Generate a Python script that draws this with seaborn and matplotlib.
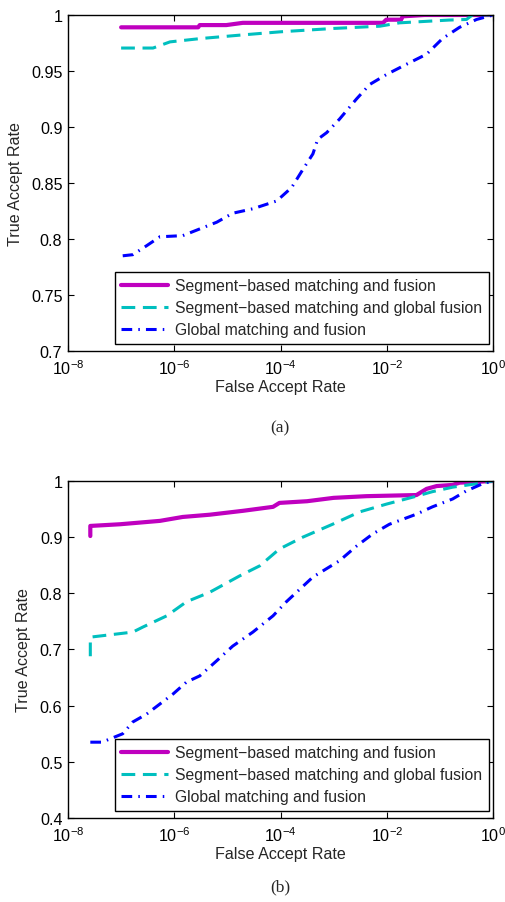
import numpy as np
import pandas as pd
import matplotlib
matplotlib.use("Agg")
import matplotlib.pyplot as plt
import seaborn as sns

# ---------------- data (FAR given as log10 values) ----------------
labels = ["Segment\u2212based matching and fusion",
          "Segment\u2212based matching and global fusion",
          "Global matching and fusion"]

# panel (a)
a_seg_logfar = [-7.0, -5.55, -5.52, -5.02, -4.71, -2.07, -2.01, -1.73, -1.70, -1.29, 0.0]
a_seg_tar    = [0.989, 0.989, 0.991, 0.991, 0.993, 0.993, 0.9958, 0.9958, 0.9988, 1.0, 1.0]
a_sgf_logfar = [-7.0, -6.4, -6.08, -5.5, -4.77, -4.0, -3.0, -2.13, -1.76, -0.82, -0.5, -0.39, 0.0]
a_sgf_tar    = [0.9705, 0.9705, 0.976, 0.979, 0.982, 0.985, 0.988, 0.990, 0.993, 0.9955, 0.996, 1.0, 1.0]
a_glb_logfar = [-6.97, -6.78, -6.52, -6.27, -5.84, -5.52, -5.2, -4.9, -4.52, -4.07, -3.79, -3.58,
                -3.39, -3.3, -3.13, -2.89, -2.57, -2.32, -2.0, -1.63, -1.25, -0.95, -0.63, -0.31, 0.0]
a_glb_tar    = [0.785, 0.786, 0.794, 0.802, 0.803, 0.809, 0.815, 0.823, 0.827, 0.834, 0.846, 0.862,
                0.876, 0.889, 0.895, 0.907, 0.925, 0.938, 0.947, 0.956, 0.965, 0.979, 0.989, 0.996, 1.0]

# panel (b)
b_seg_logfar = [-7.58, -7.58, -7.02, -6.27, -5.84, -5.33, -4.7, -4.14, -4.02, -3.5, -3.0, -2.38,
                -1.44, -1.25, -1.06, -0.76, -0.63, 0.0]
b_seg_tar    = [0.902, 0.920, 0.923, 0.929, 0.936, 0.940, 0.947, 0.954, 0.961, 0.964, 0.970, 0.973,
                0.975, 0.986, 0.991, 0.993, 0.997, 1.0]
b_sgf_logfar = [-7.58, -7.58, -6.78, -6.59, -6.14, -5.77, -5.33, -4.77, -4.39, -4.02, -3.58, -3.02,
                -2.51, -2.0, -1.44, -1.14, -0.76, -0.32, 0.0]
b_sgf_tar    = [0.688, 0.722, 0.731, 0.740, 0.760, 0.785, 0.802, 0.831, 0.849, 0.879, 0.900, 0.923,
                0.945, 0.959, 0.973, 0.981, 0.989, 0.995, 1.0]
b_glb_logfar = [-7.58, -7.36, -6.97, -6.78, -6.52, -6.27, -6.02, -5.77, -5.52, -5.2, -4.9, -4.52,
                -4.14, -3.89, -3.39, -2.89, -2.57, -2.26, -1.95, -1.44, -1.14, -0.76, -0.51, -0.2, 0.0]
b_glb_tar    = [0.535, 0.535, 0.550, 0.571, 0.585, 0.603, 0.621, 0.642, 0.653, 0.680, 0.706, 0.731,
                0.760, 0.785, 0.829, 0.858, 0.884, 0.906, 0.923, 0.941, 0.954, 0.968, 0.982, 0.995, 1.0]

a_yticks = [0.7, 0.75, 0.8, 0.85, 0.9, 0.95, 1.0]
a_yticklabels = ["0.7", "0.75", "0.8", "0.85", "0.9", "0.95", "1"]
b_yticks = [0.4, 0.5, 0.6, 0.7, 0.8, 0.9, 1.0]
b_yticklabels = ["0.4", "0.5", "0.6", "0.7", "0.8", "0.9", "1"]
xticks = [1e-8, 1e-6, 1e-4, 1e-2, 1e0]
captions = ["(a)", "(b)"]

# ---------------- style ----------------
sns.set_style("ticks")
plt.rcParams["font.family"] = ["Liberation Sans", "DejaVu Sans"]
plt.rcParams["mathtext.fontset"] = "custom"
plt.rcParams["mathtext.rm"] = "Liberation Sans"
plt.rcParams["mathtext.it"] = "Liberation Sans:italic"
FS = 11.6
LFS = 11.3

colors = ["#BF00BF", "#00BFBF", "#0000FF"]
widths = [3.0, 2.2, 2.2]
styles = ["-", (0, (4.5, 2.5)), (0, (3.5, 2.0, 0.5, 2.0))]

fig = plt.figure(figsize=(5.06, 9.03), dpi=100)
ax_a = fig.add_axes([68 / 506, 1 - 352 / 903, 425 / 506, 336 / 903])
ax_b = fig.add_axes([68 / 506, 1 - 819 / 903, 425 / 506, 337 / 903])

panels = [
    (ax_a, [(a_seg_logfar, a_seg_tar), (a_sgf_logfar, a_sgf_tar), (a_glb_logfar, a_glb_tar)],
     (0.7, 1.0), a_yticks, a_yticklabels),
    (ax_b, [(b_seg_logfar, b_seg_tar), (b_sgf_logfar, b_sgf_tar), (b_glb_logfar, b_glb_tar)],
     (0.4, 1.0), b_yticks, b_yticklabels),
]

for ax, series, ylim, yt, ytl in panels:
    for (lf, tar), lab, c, w, ls in zip(series, labels, colors, widths, styles):
        df = pd.DataFrame({"FAR": np.power(10.0, lf), "TAR": tar})
        sns.lineplot(data=df, x="FAR", y="TAR", ax=ax, sort=False, estimator=None,
                     color=c, lw=w, linestyle=ls, label=lab)
    ax.set_xscale("log")
    ax.set_xlim(1e-8, 1e0)
    ax.set_ylim(*ylim)
    ax.set_xticks(xticks)
    ax.minorticks_off()
    ax.set_yticks(yt)
    ax.set_yticklabels(ytl)
    ax.tick_params(direction="in", length=4, width=0.8, top=True, right=True,
                   labelsize=FS, colors="black", pad=4)
    ax.tick_params(axis="x", pad=5.5)
    for sp in ax.spines.values():
        sp.set_visible(True)
        sp.set_color("black")
        sp.set_linewidth(1.0)
    ax.set_xlabel("False Accept Rate", fontsize=FS, labelpad=1)
    ax.set_ylabel("True Accept Rate", fontsize=FS, labelpad=6)
    leg = ax.legend(loc="lower left", bbox_to_anchor=(0.11, 0.022), fontsize=LFS,
                    frameon=True, fancybox=False, shadow=False, framealpha=1,
                    edgecolor="black", handlelength=3.0, handletextpad=0.45,
                    borderpad=0.4, labelspacing=0.45, borderaxespad=0)
    leg.get_frame().set_linewidth(1.0)

fig.text(280 / 506, 1 - 428 / 903, captions[0], ha="center", va="center",
         fontsize=12.5, family=["Liberation Serif", "DejaVu Serif"])
fig.text(280 / 506, 1 - 887 / 903, captions[1], ha="center", va="center",
         fontsize=12.5, family=["Liberation Serif", "DejaVu Serif"])

fig.savefig("out.png", dpi=100)
